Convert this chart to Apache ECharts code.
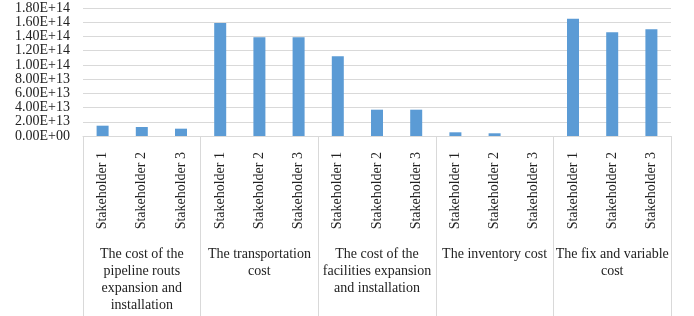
<!DOCTYPE html>
<html>
<head>
<meta charset="utf-8">
<script src="https://cdn.jsdelivr.net/npm/echarts@6/dist/echarts.min.js"></script>
<style>
html, body { margin: 0; padding: 0; background: #fff; }
#main { width: 694px; height: 316px; }
</style>
</head>
<body>
<div id="main"></div>
<script>
// 成本分组
var groups = [
	'The cost of the\npipeline routs\nexpansion and\ninstallation',
	'The transportation\ncost',
	'The cost of the\nfacilities expansion\nand installation',
	'The inventory cost',
	'The fix and variable\ncost'
];
var stakeholders = ['Stakeholder 1', 'Stakeholder 2', 'Stakeholder 3'];

// 每组三个值
var pipelineCost = [1.45e13, 1.27e13, 1.03e13];
var transportCost = [1.59e14, 1.39e14, 1.39e14];
var facilityCost = [1.12e14, 3.7e13, 3.7e13];
var inventoryCost = [5.2e12, 3.8e12, 0];
var fixVarCost = [1.65e14, 1.46e14, 1.50e14];

var yTicks = [0, 1.8e14, 2e13];  // min, max, interval

var categories = [];
groups.forEach(function() {
	stakeholders.forEach(function(s) { categories.push(s); });
});
var values = [].concat(pipelineCost, transportCost, facilityCost, inventoryCost, fixVarCost);

function sci(v) {
	var s = v.toExponential(2).split('e');
	var e = parseInt(s[1], 10);
	var sign = e < 0 ? '-' : '+';
	e = Math.abs(e);
	return s[0] + 'E' + sign + (e < 10 ? '0' + e : e);
}

var font = '"Liberation Serif", "Times New Roman", serif';

var chart = echarts.init(document.getElementById('main'));
chart.setOption({
	animation: false,
	textStyle: { fontFamily: font },
	grid: {
		left: 83,
		right: 23,
		top: 8,
		bottom: 180
	},
	xAxis: [{
		type: 'category',
		data: categories,
		axisLine: { lineStyle: { color: '#d9d9d9' } },
		axisTick: { show: false },
		axisLabel: {
			rotate: 90,
			margin: 16,
			interval: 0,
			color: '#222',
			fontSize: 14,
			fontFamily: font
		}
	}, {
		type: 'category',
		data: groups,
		position: 'bottom',
		axisLine: { show: false },
		axisTick: {
			show: true,
			length: 180,
			lineStyle: { color: '#d9d9d9' }
		},
		axisLabel: {
			margin: 110,
			interval: 0,
			color: '#222',
			fontSize: 14,
			lineHeight: 17,
			fontFamily: font
		}
	}],
	yAxis: {
		type: 'value',
		min: yTicks[0],
		max: yTicks[1],
		interval: yTicks[2],
		axisLine: { show: false },
		axisTick: { show: false },
		splitLine: { lineStyle: { color: '#d9d9d9' } },
		axisLabel: {
			margin: 13,
			color: '#222',
			fontSize: 14,
			fontFamily: font,
			formatter: sci
		}
	},
	series: [{
		type: 'bar',
		xAxisIndex: 0,
		barWidth: 12,
		itemStyle: { color: '#5B9BD5' },
		data: values
	}]
});
</script>
</body>
</html>
